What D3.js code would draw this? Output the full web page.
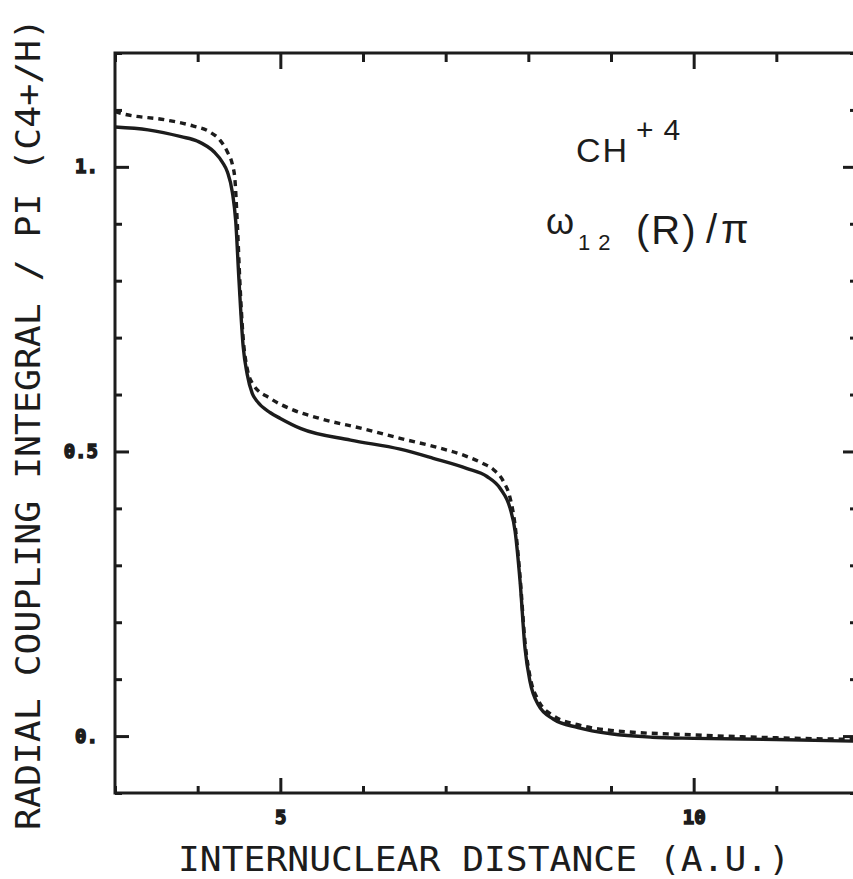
<!DOCTYPE html>
<html>
<head>
<meta charset="utf-8">
<script src="https://cdn.jsdelivr.net/npm/d3@7"></script>
<style>
  html, body { margin: 0; padding: 0; background: #ffffff; }
  svg { display: block; }
</style>
</head>
<body>
<div id="chart"></div>
<script>
// ---------- DATA ----------
const xMajorTicks = [5, 10];
const xMinorTicks = [3, 4, 6, 7, 8, 9, 11, 12];
const yMajorTicks = [0, 0.5, 1.0];
const yMajorLabels = ["0.", "0.5", "1."];
const yMinorTicks = [-0.1, 0.1, 0.2, 0.3, 0.4, 0.6, 0.7, 0.8, 0.9, 1.1, 1.2];

const xTitle = "INTERNUCLEAR DISTANCE (A.U.)";
const yTitle = "RADIAL COUPLING INTEGRAL / PI (C4+/H)";

// solid curve: R (a.u.) and value
const solidR = [3.0, 3.4, 3.8, 4.0, 4.2, 4.3, 4.36, 4.42, 4.46, 4.50, 4.55, 4.60, 4.66, 4.72, 4.88, 5.0, 5.25, 5.85, 6.45, 6.85, 7.26, 7.50, 7.66, 7.78, 7.84, 7.90, 7.96, 8.02, 8.12, 8.3, 8.6, 9.0, 9.5, 10.0, 11.0, 12.0];
const solidV = [1.070, 1.065, 1.053, 1.045, 1.026, 1.008, 0.991, 0.955, 0.905, 0.800, 0.685, 0.635, 0.602, 0.588, 0.568, 0.558, 0.540, 0.520, 0.504, 0.488, 0.470, 0.456, 0.435, 0.400, 0.360, 0.272, 0.154, 0.096, 0.055, 0.030, 0.015, 0.004, -0.002, -0.004, -0.006, -0.009];

// dashed curve
const dashedR = [3.0, 3.1, 3.63, 3.94, 4.15, 4.27, 4.36, 4.42, 4.45, 4.48, 4.51, 4.55, 4.60, 4.67, 4.88, 5.12, 5.5, 6.0, 6.45, 6.85, 7.26, 7.45, 7.58, 7.70, 7.78, 7.84, 7.90, 7.96, 8.02, 8.12, 8.3, 8.6, 9.0, 10.0, 11.0, 12.0];
const dashedV = [1.097, 1.093, 1.082, 1.072, 1.061, 1.047, 1.026, 1.004, 0.979, 0.900, 0.800, 0.700, 0.645, 0.618, 0.593, 0.575, 0.557, 0.540, 0.523, 0.509, 0.491, 0.479, 0.468, 0.447, 0.418, 0.370, 0.280, 0.165, 0.105, 0.063, 0.036, 0.020, 0.010, 0.002, -0.003, -0.006];

// ---------- LAYOUT ----------
const W = 853, H = 879;
const pLeft = 115, pRight = 859, pTop = 53, pBottom = 793;
const ink = "#1c1c1c";

const svg = d3.select("#chart").append("svg")
  .attr("width", W).attr("height", H)
  .attr("viewBox", `0 0 ${W} ${H}`);

const x = d3.scaleLinear().domain([3, 12]).range([pLeft, pRight]);
const y = d3.scaleLinear().domain([-0.1, 1.2]).range([pBottom, pTop]);

function styleAxis(g) {
  g.select(".domain").remove();
  g.selectAll(".tick line").attr("stroke", ink).attr("stroke-width", 3);
  g.selectAll(".tick text")
    .attr("fill", ink)
    .attr("stroke", ink).attr("stroke-width", 1.5)
    .style("font-family", "'DejaVu Sans Mono', monospace")
    .style("font-weight", "bold")
    .style("font-size", "19px");
}

// bottom axis
svg.append("g").attr("transform", `translate(0,${pBottom})`)
  .call(d3.axisBottom(x).tickValues(xMinorTicks).tickSize(-7).tickFormat(""))
  .call(styleAxis);
svg.append("g").attr("transform", `translate(0,${pBottom})`)
  .call(d3.axisBottom(x).tickValues(xMajorTicks).tickSize(-15).tickPadding(18).tickFormat(d3.format("d")))
  .call(styleAxis);

// top axis
svg.append("g").attr("transform", `translate(0,${pTop})`)
  .call(d3.axisTop(x).tickValues(xMinorTicks).tickSize(-9).tickFormat(""))
  .call(styleAxis);
svg.append("g").attr("transform", `translate(0,${pTop})`)
  .call(d3.axisTop(x).tickValues(xMajorTicks).tickSize(-16).tickFormat(""))
  .call(styleAxis);

// left axis
svg.append("g").attr("transform", `translate(${pLeft},0)`)
  .call(d3.axisLeft(y).tickValues(yMinorTicks).tickSize(-7).tickFormat(""))
  .call(styleAxis);
svg.append("g").attr("transform", `translate(${pLeft},0)`)
  .call(d3.axisLeft(y).tickValues(yMajorTicks).tickSize(-14).tickPadding(17)
        .tickFormat((d, i) => yMajorLabels[i]))
  .call(styleAxis);

// right axis
svg.append("g").attr("transform", `translate(${pRight},0)`)
  .call(d3.axisRight(y).tickValues(yMinorTicks).tickSize(-9).tickFormat(""))
  .call(styleAxis);
svg.append("g").attr("transform", `translate(${pRight},0)`)
  .call(d3.axisRight(y).tickValues(yMajorTicks).tickSize(-16).tickFormat(""))
  .call(styleAxis);

// frame
svg.append("rect")
  .attr("x", pLeft).attr("y", pTop)
  .attr("width", pRight - pLeft).attr("height", pBottom - pTop)
  .attr("fill", "none").attr("stroke", ink).attr("stroke-width", 3);

// curves
const line = d3.line()
  .x(d => x(d[0])).y(d => y(d[1]))
  .curve(d3.curveMonotoneX);

const solidData = solidR.map((r, i) => [r, solidV[i]]);
const dashedData = dashedR.map((r, i) => [r, dashedV[i]]);

svg.append("path").datum(solidData)
  .attr("d", line).attr("fill", "none")
  .attr("stroke", ink).attr("stroke-width", 3.4)
  .attr("stroke-linejoin", "round");

svg.append("path").datum(dashedData)
  .attr("d", line).attr("fill", "none")
  .attr("stroke", ink).attr("stroke-width", 3.4)
  .attr("stroke-dasharray", "6,5");

// axis titles
svg.append("text")
  .attr("x", 484).attr("y", 871)
  .attr("text-anchor", "middle")
  .attr("textLength", 612).attr("lengthAdjust", "spacingAndGlyphs")
  .attr("fill", ink)
  .style("font-family", "'DejaVu Sans Mono', monospace")
  .style("font-size", "34px")
  .text(xTitle);

svg.append("text")
  .attr("transform", "translate(40,424) rotate(-90)")
  .attr("text-anchor", "middle")
  .attr("textLength", 812).attr("lengthAdjust", "spacingAndGlyphs")
  .attr("fill", ink)
  .style("font-family", "'DejaVu Sans Mono', monospace")
  .style("font-size", "34px")
  .text(yTitle);

// hand-written annotations
const hand = "'Liberation Sans', 'DejaVu Sans', sans-serif";
function note(tx, tx0, ty0, size, spacing) {
  svg.append("text").attr("x", tx0).attr("y", ty0)
    .attr("fill", ink).style("font-family", hand)
    .style("font-size", size + "px")
    .style("letter-spacing", (spacing || 0) + "px")
    .text(tx);
}
note("CH", 576, 162, 34, 2);
note("+4", 636, 140, 30, 10);
note("ω", 546, 234, 36);
note("12", 578, 250, 22, 8);
note("(R)", 636, 244, 40, 2);
note("/π", 706, 243, 40, 4);
</script>
</body>
</html>
